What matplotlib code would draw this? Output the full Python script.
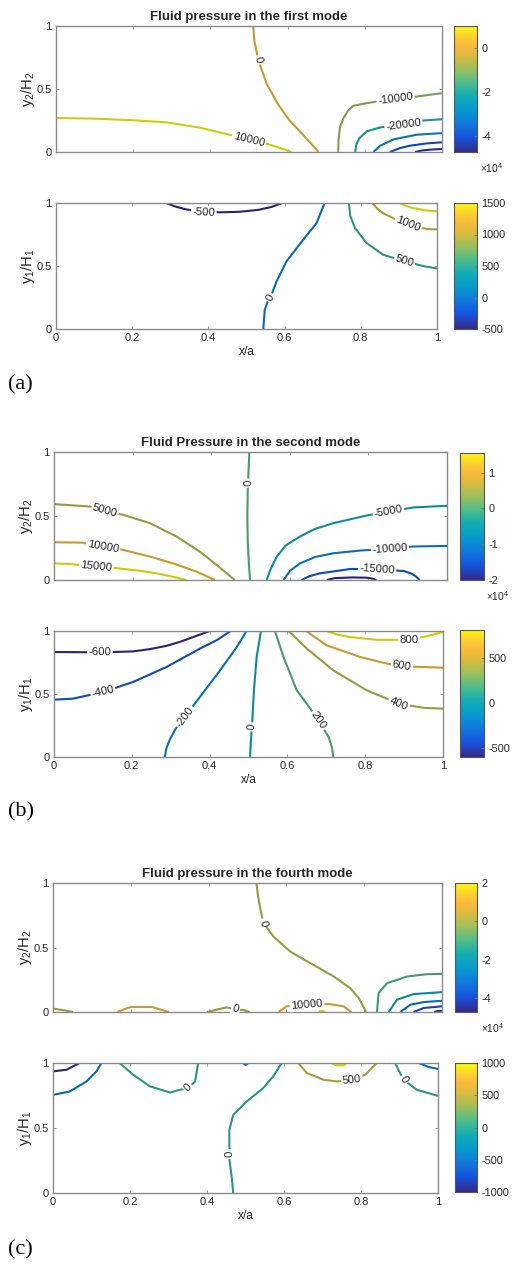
import numpy as np
import matplotlib
matplotlib.use("Agg")
import matplotlib.pyplot as plt
from matplotlib.colors import LinearSegmentedColormap, Normalize
from matplotlib.cm import ScalarMappable

plt.rcParams["font.family"] = ["Liberation Sans", "DejaVu Sans"]
plt.rcParams["mathtext.fontset"] = "custom"
plt.rcParams["mathtext.rm"] = "Liberation Sans"
plt.rcParams["mathtext.default"] = "regular"
plt.rcParams["axes.unicode_minus"] = False

# ---------------------------------------------------------------- colormap
PARULA_STOPS = [0.0, 0.111, 0.222, 0.333, 0.444, 0.556, 0.667, 0.778, 0.85, 0.92, 1.0]
PARULA_RGB = [
    (0.2081, 0.1663, 0.5292),
    (0.0900, 0.3200, 0.8700),
    (0.0600, 0.4700, 0.8600),
    (0.0265, 0.6000, 0.8100),
    (0.0700, 0.6800, 0.7000),
    (0.3200, 0.7400, 0.5300),
    (0.6300, 0.7500, 0.3500),
    (0.8900, 0.7300, 0.2400),
    (0.9800, 0.7300, 0.2300),
    (0.9900, 0.8200, 0.1800),
    (0.9763, 0.9831, 0.0538),
]
parula = LinearSegmentedColormap.from_list(
    "parula", list(zip(PARULA_STOPS, PARULA_RGB)), N=256)

# ---------------------------------------------------------------- data
# (a) first mode, upper fluid layer: contour levels and isoline coordinates
A_TOP_LEVELS = [10000, 0, -10000, -20000, -30000, -40000, -45000]
A_TOP_X = [
    [0, 0.1, 0.2, 0.287, 0.37, 0.45, 0.5, 0.55, 0.59, 0.61],
    [0.511, 0.514, 0.524, 0.546, 0.575, 0.605, 0.636, 0.66, 0.68],
    [0.731, 0.732, 0.736, 0.745, 0.757, 0.77, 0.8, 0.83, 0.88, 0.934, 1.0],
    [0.775, 0.778, 0.786, 0.805, 0.84, 0.9, 0.952, 1.0],
    [0.822, 0.84, 0.874, 0.934, 1.0],
    [0.865, 0.89, 0.917, 0.96, 1.0],
    [0.93, 0.95, 0.975, 1.0],
]
A_TOP_Y = [
    [0.27, 0.265, 0.252, 0.235, 0.195, 0.137, 0.1, 0.062, 0.022, 0],
    [1.0, 0.88, 0.73, 0.54, 0.38, 0.25, 0.15, 0.07, 0],
    [0, 0.1, 0.2, 0.27, 0.33, 0.367, 0.385, 0.40, 0.42, 0.44, 0.467],
    [0, 0.06, 0.11, 0.164, 0.195, 0.218, 0.25, 0.26],
    [0, 0.05, 0.1, 0.137, 0.15],
    [0, 0.03, 0.05, 0.068, 0.077],
    [0, 0.013, 0.02, 0.024],
]
A_TOP_LABELS = [(0, 0.524, 0.73), (10000, 0.5, 0.1),
                (-10000, 0.88, 0.42), (-20000, 0.9, 0.218)]
A_TOP_CLIM = (-47200, 10000)
A_TOP_TICKS = [-40000, -20000, 0]
A_TOP_TICKLABELS = ["-4", "-2", "0"]

# (a) first mode, lower fluid layer
A_BOT_LEVELS = [-500, 0, 500, 1000, 1500]
A_BOT_X = [
    [0.29, 0.31, 0.34, 0.38, 0.43, 0.48, 0.53, 0.565, 0.594],
    [0.544, 0.548, 0.556, 0.568, 0.579, 0.605, 0.649, 0.684, 0.705],
    [0.769, 0.772, 0.785, 0.815, 0.858, 0.915, 0.963, 1.0],
    [0.83, 0.845, 0.858, 0.893, 0.924, 0.972, 1.0],
    [0.902, 0.92, 0.937, 0.972, 1.0],
]
A_BOT_Y = [
    [1, 0.975, 0.95, 0.932, 0.926, 0.93, 0.945, 0.968, 1],
    [0, 0.153, 0.22, 0.29, 0.378, 0.537, 0.709, 0.841, 1],
    [1, 0.9, 0.8, 0.683, 0.59, 0.537, 0.5, 0.48],
    [1, 0.95, 0.92, 0.868, 0.83, 0.794, 0.79],
    [1, 0.975, 0.96, 0.94, 0.934],
]
A_BOT_LABELS = [(-500, 0.388, 0.927), (0, 0.562, 0.25),
                (500, 0.915, 0.537), (1000, 0.924, 0.83)]
A_BOT_CLIM = (-500, 1500)
A_BOT_TICKS = [-500, 0, 500, 1000, 1500]
A_BOT_TICKLABELS = ["-500", "0", "500", "1000", "1500"]

# (b) second mode, upper fluid layer
B_TOP_LEVELS = [15000, 10000, 5000, 0, -5000, -10000, -15000, -20000]
B_TOP_X = [
    [0, 0.04, 0.108, 0.163, 0.22, 0.27, 0.31, 0.337],
    [0, 0.07, 0.125, 0.176, 0.244, 0.303, 0.363, 0.41],
    [0, 0.091, 0.13, 0.176, 0.244, 0.312, 0.371, 0.414, 0.46],
    [0.497, 0.495, 0.493, 0.492, 0.493, 0.496, 0.499],
    [0.541, 0.552, 0.567, 0.59, 0.626, 0.665, 0.711, 0.796, 0.851, 0.915, 1.0],
    [0.584, 0.6, 0.626, 0.665, 0.711, 0.779, 0.855, 0.915, 1.0],
    [0.63, 0.65, 0.677, 0.754, 0.822, 0.89, 0.91, 0.922, 0.93],
    [0.694, 0.715, 0.76, 0.796, 0.812, 0.82],
]
B_TOP_Y = [
    [0.13, 0.125, 0.105, 0.091, 0.072, 0.047, 0.02, 0],
    [0.295, 0.292, 0.262, 0.235, 0.183, 0.13, 0.065, 0],
    [0.593, 0.574, 0.54, 0.509, 0.444, 0.339, 0.222, 0.117, 0],
    [1, 0.85, 0.7, 0.5, 0.3, 0.12, 0],
    [0, 0.09, 0.183, 0.27, 0.34, 0.4, 0.444, 0.504, 0.535, 0.567, 0.58],
    [0, 0.07, 0.13, 0.18, 0.209, 0.23, 0.245, 0.262, 0.266],
    [0, 0.03, 0.052, 0.086, 0.085, 0.07, 0.05, 0.025, 0],
    [0, 0.015, 0.02, 0.018, 0.01, 0],
]
B_TOP_LABELS = [(15000, 0.108, 0.105), (10000, 0.125, 0.262), (5000, 0.13, 0.54),
                (0, 0.494, 0.757), (-5000, 0.851, 0.535), (-10000, 0.855, 0.245),
                (-15000, 0.822, 0.082)]
B_TOP_CLIM = (-20000, 15500)
B_TOP_TICKS = [-20000, -10000, 0, 10000]
B_TOP_TICKLABELS = ["-2", "-1", "0", "1"]

# (b) second mode, lower fluid layer
B_BOT_LEVELS = [-600, -400, -200, 0, 200, 400, 600, 800]
B_BOT_X = [
    [0, 0.06, 0.118, 0.203, 0.246, 0.289, 0.325, 0.358, 0.4],
    [0, 0.049, 0.126, 0.203, 0.289, 0.375, 0.42, 0.454],
    [0.285, 0.289, 0.298, 0.312, 0.336, 0.375, 0.427, 0.47, 0.495],
    [0.504, 0.506, 0.51, 0.514, 0.521, 0.532],
    [0.568, 0.59, 0.624, 0.66, 0.68, 0.706, 0.715, 0.718],
    [0.603, 0.65, 0.718, 0.804, 0.85, 0.886, 0.95, 1.0],
    [0.648, 0.701, 0.787, 0.85, 0.894, 0.95, 1.0],
    [0.701, 0.73, 0.761, 0.83, 0.912, 0.96, 1.0],
]
B_BOT_Y = [
    [0.833, 0.832, 0.83, 0.838, 0.856, 0.882, 0.915, 0.952, 1],
    [0.455, 0.463, 0.516, 0.595, 0.714, 0.86, 0.93, 1],
    [0, 0.07, 0.14, 0.22, 0.32, 0.476, 0.688, 0.873, 1],
    [0, 0.12, 0.3, 0.529, 0.794, 1],
    [1, 0.794, 0.529, 0.38, 0.29, 0.159, 0.07, 0],
    [1, 0.86, 0.688, 0.529, 0.47, 0.423, 0.39, 0.384],
    [1, 0.886, 0.794, 0.745, 0.72, 0.714, 0.709],
    [1, 0.97, 0.952, 0.93, 0.93, 0.96, 0.992],
]
B_BOT_LABELS = [(-600, 0.118, 0.83), (-400, 0.126, 0.516), (-200, 0.336, 0.32),
                (0, 0.508, 0.238), (200, 0.68, 0.29), (400, 0.886, 0.423),
                (600, 0.894, 0.72), (800, 0.912, 0.93)]
B_BOT_CLIM = (-600, 810)
B_BOT_TICKS = [-500, 0, 500]
B_BOT_TICKLABELS = ["-500", "0", "500"]

# (c) fourth mode, upper fluid layer
C_TOP_LEVELS = [0, 0, 10000, 0, 10000, 20000, -10000, -20000, -30000, -40000, -45000]
C_TOP_X = [
    [0.523, 0.527, 0.532, 0.541, 0.567, 0.61, 0.662, 0.722, 0.764, 0.786, 0.805],
    [0, 0.025, 0.051],
    [0.165, 0.199, 0.254, 0.297],
    [0.396, 0.43, 0.447, 0.469, 0.49, 0.506],
    [0.58, 0.6, 0.653, 0.709, 0.747, 0.767],
    [0.683, 0.69, 0.7],
    [0.833, 0.835, 0.837, 0.859, 0.91, 0.961, 1.0],
    [0.863, 0.884, 0.927, 1.0],
    [0.893, 0.919, 0.953, 1.0],
    [0.927, 0.953, 1.0],
    [0.98, 0.99, 1.0],
]
C_TOP_Y = [
    [1, 0.9, 0.815, 0.69, 0.584, 0.468, 0.378, 0.275, 0.185, 0.108, 0],
    [0.026, 0.015, 0],
    [0, 0.039, 0.039, 0],
    [0, 0.025, 0.036, 0.018, 0.015, 0],
    [0, 0.044, 0.057, 0.062, 0.044, 0],
    [0, 0.01, 0],
    [0, 0.08, 0.147, 0.224, 0.275, 0.293, 0.296],
    [0, 0.095, 0.139, 0.154],
    [0, 0.057, 0.077, 0.087],
    [0, 0.031, 0.044],
    [0, 0.008, 0.01],
]
C_TOP_LABELS = [(0, 0.541, 0.69), (0, 0.469, 0.02), (10000, 0.653, 0.057)]
C_TOP_CLIM = (-47300, 20000)
C_TOP_TICKS = [-40000, -20000, 0, 20000]
C_TOP_TICKLABELS = ["-4", "-2", "0", "2"]

# (c) fourth mode, lower fluid layer
C_BOT_LEVELS = [-1000, -500, 0, -500, 0, 500, 1000, 0, -500]
C_BOT_X = [
    [0, 0.035, 0.069],
    [0, 0.043, 0.087, 0.113, 0.126],
    [0.173, 0.208, 0.252, 0.304, 0.33, 0.351, 0.369, 0.377],
    [0.494, 0.5, 0.507],
    [0.468, 0.466, 0.464, 0.458, 0.458, 0.468, 0.503, 0.546, 0.572, 0.594],
    [0.637, 0.659, 0.703, 0.737, 0.776, 0.811, 0.841],
    [0.724, 0.735, 0.755, 0.763],
    [0.889, 0.9, 0.911, 0.945, 1.0],
    [0.95, 0.975, 1.0],
]
C_BOT_Y = [
    [0.936, 0.948, 1],
    [0.755, 0.78, 0.858, 0.936, 1],
    [1, 0.91, 0.82, 0.773, 0.794, 0.807, 0.858, 1],
    [1, 0.985, 1],
    [0, 0.07, 0.124, 0.265, 0.485, 0.6, 0.704, 0.807, 0.897, 1],
    [1, 0.923, 0.871, 0.858, 0.871, 0.91, 1],
    [1, 0.982, 0.982, 1],
    [1, 0.93, 0.871, 0.794, 0.747],
    [1, 0.97, 0.954],
]
C_BOT_LABELS = [(0, 0.351, 0.81), (0, 0.458, 0.3), (500, 0.776, 0.871), (0, 0.911, 0.871)]
C_BOT_CLIM = (-1000, 1000)
C_BOT_TICKS = [-1000, -500, 0, 500, 1000]
C_BOT_TICKLABELS = ["-1000", "-500", "0", "500", "1000"]

X_TICKS = [0, 0.2, 0.4, 0.6, 0.8, 1]
X_TICKLABELS = ["0", "0.2", "0.4", "0.6", "0.8", "1"]
Y_TICKS = [0, 0.5, 1]
Y_TICKLABELS = ["0", "0.5", "1"]

# ---------------------------------------------------------------- layout
W, H = 513, 1265
fig = plt.figure(figsize=(W / 100, H / 100), dpi=100)

FRAME = "#8a8a8a"
TXT = "#262626"
TICK_FS = 8.0
CB_FS = 7.8
CLABEL_FS = 8.2
LINE_W = 1.5
LINE_SHADE = 0.82


def rect(x0, y0, x1, y1):
    return [x0 / W, 1 - y1 / H, (x1 - x0) / W, (y1 - y0) / H]


def style_axes(ax, ylab, show_x):
    ax.set_xlim(0, 1)
    ax.set_ylim(0, 1)
    ax.set_xticks(X_TICKS)
    ax.set_yticks(Y_TICKS)
    ax.set_yticklabels(Y_TICKLABELS)
    if show_x:
        ax.set_xticklabels(X_TICKLABELS)
        ax.set_xlabel("x/a", fontsize=8.6, color=TXT, labelpad=2)
    else:
        ax.set_xticklabels([])
    ax.tick_params(direction="in", length=2.5, width=0.6, color=FRAME,
                   labelsize=TICK_FS, labelcolor=TXT, top=True, right=True, pad=3)
    for sp in ax.spines.values():
        sp.set_color(FRAME)
        sp.set_linewidth(1.0)
    ax.set_ylabel(ylab, fontsize=10.6, color=TXT, labelpad=0)


def upright_angle(ax, xs, ys, lx, ly):
    pts = ax.transData.transform(np.column_stack([xs, ys]))
    p = ax.transData.transform((lx, ly))
    best, ang = np.inf, 0.0
    for i in range(len(pts) - 1):
        a, b = pts[i], pts[i + 1]
        d = b - a
        t = np.clip(np.dot(p - a, d) / max(np.dot(d, d), 1e-9), 0, 1)
        dist = np.linalg.norm(a + t * d - p)
        if dist < best:
            best = dist
            ang = np.degrees(np.arctan2(d[1], d[0]))
    if ang > 90:
        ang -= 180
    if ang <= -90:
        ang += 180
    return ang


def line_color(cmap, v):
    r, g, b, _ = cmap(v)
    return (r * LINE_SHADE, g * LINE_SHADE, b * LINE_SHADE)


def draw_panel(ax, cax, levels, xs, ys, labels, clim, cticks, cticklabels, sci):
    norm = Normalize(vmin=clim[0], vmax=clim[1])
    for lev, x, y in zip(levels, xs, ys):
        ax.plot(x, y, color=line_color(parula, norm(lev)), lw=LINE_W,
                solid_capstyle="butt", solid_joinstyle="round", clip_on=True, zorder=2)
    for lev, lx, ly in labels:
        # the isoline carrying this level closest to the label anchor
        cands = [(x, y) for L, x, y in zip(levels, xs, ys) if L == lev]
        dmin, pick = np.inf, cands[0]
        for x, y in cands:
            d = np.min(np.hypot(np.asarray(x) - lx, np.asarray(y) - ly))
            if d < dmin:
                dmin, pick = d, (x, y)
        ang = upright_angle(ax, pick[0], pick[1], lx, ly)
        ax.text(lx, ly, str(lev), fontsize=CLABEL_FS, color=TXT, rotation=ang,
                rotation_mode="anchor", ha="center", va="center", zorder=3,
                bbox=dict(boxstyle="square,pad=0.12", fc="white", ec="none"))
    sm = ScalarMappable(norm=norm, cmap=parula)
    cb = fig.colorbar(sm, cax=cax)
    cb.set_ticks(cticks)
    cb.set_ticklabels(cticklabels)
    cb.outline.set_edgecolor("#555555")
    cb.outline.set_linewidth(0.8)
    cax.tick_params(direction="in", length=2.5, width=0.6, color="#777777",
                    labelsize=CB_FS, labelcolor=TXT, pad=3)
    if sci:
        pos = cax.get_position()
        fig.text(pos.x0 + 0.050, pos.y0 - 0.013, r"$\times$10$^4$",
                 fontsize=7.4, color=TXT, ha="left", va="center")


YLAB_TOP = r"y$_2$/H$_2$"
YLAB_BOT = r"y$_1$/H$_1$"
TITLE_FS = 9.5

# (a)
ax = fig.add_axes(rect(56, 26, 442, 152))
cax = fig.add_axes(rect(454, 26, 477, 152))
style_axes(ax, YLAB_TOP, False)
ax.set_title("Fluid pressure in the first mode", fontsize=TITLE_FS,
             fontweight="bold", color=TXT, pad=4)
draw_panel(ax, cax, A_TOP_LEVELS, A_TOP_X, A_TOP_Y, A_TOP_LABELS, A_TOP_CLIM,
           A_TOP_TICKS, A_TOP_TICKLABELS, True)

ax = fig.add_axes(rect(56, 203, 437, 329))
cax = fig.add_axes(rect(454, 203, 477, 329))
style_axes(ax, YLAB_BOT, True)
draw_panel(ax, cax, A_BOT_LEVELS, A_BOT_X, A_BOT_Y, A_BOT_LABELS, A_BOT_CLIM,
           A_BOT_TICKS, A_BOT_TICKLABELS, False)

# (b)
ax = fig.add_axes(rect(54, 452, 447, 580))
cax = fig.add_axes(rect(460, 453, 484, 580))
style_axes(ax, YLAB_TOP, False)
ax.set_title("Fluid Pressure in the second mode", fontsize=TITLE_FS,
             fontweight="bold", color=TXT, pad=4)
draw_panel(ax, cax, B_TOP_LEVELS, B_TOP_X, B_TOP_Y, B_TOP_LABELS, B_TOP_CLIM,
           B_TOP_TICKS, B_TOP_TICKLABELS, True)

ax = fig.add_axes(rect(54, 631, 443, 757))
cax = fig.add_axes(rect(460, 630, 484, 757))
style_axes(ax, YLAB_BOT, True)
draw_panel(ax, cax, B_BOT_LEVELS, B_BOT_X, B_BOT_Y, B_BOT_LABELS, B_BOT_CLIM,
           B_BOT_TICKS, B_BOT_TICKLABELS, False)

# (c)
ax = fig.add_axes(rect(53, 883, 442, 1012))
cax = fig.add_axes(rect(455, 883, 477, 1012))
style_axes(ax, YLAB_TOP, False)
ax.set_title("Fluid pressure in the fourth mode", fontsize=TITLE_FS,
             fontweight="bold", color=TXT, pad=4)
draw_panel(ax, cax, C_TOP_LEVELS, C_TOP_X, C_TOP_Y, C_TOP_LABELS, C_TOP_CLIM,
           C_TOP_TICKS, C_TOP_TICKLABELS, True)

ax = fig.add_axes(rect(53, 1063, 438, 1193))
cax = fig.add_axes(rect(455, 1063, 477, 1192))
style_axes(ax, YLAB_BOT, True)
draw_panel(ax, cax, C_BOT_LEVELS, C_BOT_X, C_BOT_Y, C_BOT_LABELS, C_BOT_CLIM,
           C_BOT_TICKS, C_BOT_TICKLABELS, False)

# panel letters
for letter, ypx in [("(a)", 385), ("(b)", 812), ("(c)", 1250)]:
    fig.text(8 / W, 1 - ypx / H, letter, fontsize=16, family="Liberation Serif",
             color="black", ha="left", va="center")

fig.savefig("out.png", dpi=100)
